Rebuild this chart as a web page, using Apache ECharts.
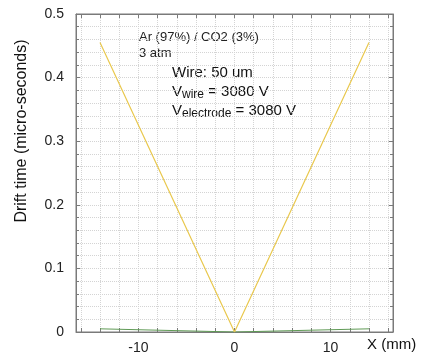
<!DOCTYPE html>
<html>
<head>
<meta charset="utf-8">
<script src="https://cdn.jsdelivr.net/npm/echarts@6/dist/echarts.min.js"></script>
<style>
  html, body { margin: 0; padding: 0; background: #fff; }
  #chart { width: 422px; height: 358px; }
</style>
</head>
<body>
<div id="chart"></div>
<script>
// positions along the wire (mm) and drift times (micro-seconds)
const xPos = [-14, 0, 14]
const driftYellow = [0.455, 0, 0.455]
const driftGreen = [0.005, 0, 0.005]

const xLabels = [-10, 0, 10]
const xGrid = [-16, -14, -12, -10, -8, -6, -4, -2, 0, 2, 4, 6, 8, 10, 12, 14, 16]

const font = 'Liberation Sans, Arial, sans-serif'
const frame = '#7a7a7a'
const gridCol = '#d4d4d4'

const chart = echarts.init(document.getElementById('chart'))

const option = {
  animation: false,
  grid: { left: 76, right: 29, top: 14, bottom: 26, show: true, borderColor: frame, borderWidth: 1 },
  xAxis: [
    {
      type: 'value',
      min: -16.5,
      max: 16.5,
      axisLine: { show: true, onZero: false, lineStyle: { color: frame, width: 1 } },
      axisTick: { show: true, inside: true, length: 4, customValues: xGrid, lineStyle: { color: frame } },
      axisLabel: {
        customValues: xLabels,
        margin: 9,
        fontFamily: font,
        fontSize: 14,
        color: '#222',
      },
      splitLine: {
        show: true,
        customValues: xGrid,
        lineStyle: { color: gridCol, type: [1, 1], width: 1 },
      },
    },
    {
      type: 'value',
      position: 'top',
      min: -16.5,
      max: 16.5,
      axisLine: { show: true, onZero: false, lineStyle: { color: frame, width: 1 } },
      axisTick: { show: true, inside: true, length: 4, customValues: xGrid, lineStyle: { color: frame } },
      axisLabel: { show: false },
      splitLine: { show: false },
    },
  ],
  yAxis: [
    {
      type: 'value',
      min: 0,
      max: 0.5,
      interval: 0.1,
      axisLine: { show: true, onZero: false, lineStyle: { color: frame, width: 1 } },
      axisTick: { show: true, inside: true, length: 4, lineStyle: { color: frame } },
      minorTick: { show: true, splitNumber: 5, length: 3, lineStyle: { color: frame } },
      axisLabel: {
        margin: 12,
        fontFamily: font,
        fontSize: 14,
        color: '#222',
        formatter: v => (v === 0 ? '0' : String(+v.toFixed(1))),
      },
      splitLine: { show: true, lineStyle: { color: gridCol, type: [1, 1] } },
      minorSplitLine: { show: true, lineStyle: { color: gridCol, type: [1, 1] } },
    },
    {
      type: 'value',
      position: 'right',
      min: 0,
      max: 0.5,
      interval: 0.1,
      axisLine: { show: true, onZero: false, lineStyle: { color: frame, width: 1 } },
      axisTick: { show: true, inside: true, length: 4, lineStyle: { color: frame } },
      minorTick: { show: true, splitNumber: 5, length: 3, lineStyle: { color: frame } },
      axisLabel: { show: false },
      splitLine: { show: false },
    },
  ],
  series: [
    {
      type: 'line',
      data: xPos.map((x, i) => [x, driftGreen[i]]),
      symbol: 'none',
      lineStyle: { color: '#5f9a55', width: 1 },
      z: 3,
    },
    {
      type: 'line',
      data: xPos.map((x, i) => [x, driftYellow[i]]),
      symbol: 'none',
      lineStyle: { color: '#e9c84e', width: 1.2 },
      z: 4,
    },
  ],
  graphic: [
    {
      type: 'text',
      x: 22,
      y: 131,
      rotation: Math.PI / 2,
      style: {
        text: 'Drift time (micro-seconds)',
        font: '16px ' + font,
        fill: '#111',
        align: 'center',
        verticalAlign: 'middle',
      },
    },
    {
      type: 'text',
      left: 139,
      top: 29,
      style: {
        text: 'Ar (97%) / CO2 (3%)\n3 atm',
        font: '13px ' + font,
        lineHeight: 16,
        fill: '#222',
      },
    },
    {
      type: 'text',
      left: 172,
      top: 65,
      style: {
        text: '{m|Wire: 50 um}\n{m|V}{s|wire}{m| = 3080 V}\n{m|V}{s|electrode}{m| = 3080 V}',
        fill: '#111',
        rich: {
          m: { fontFamily: font, fontSize: 15, lineHeight: 19, fill: '#111' },
          s: { fontFamily: font, fontSize: 12, lineHeight: 19, verticalAlign: 'bottom', padding: [7, 0, 0, 0], fill: '#111' },
        },
      },
    },
    {
      type: 'text',
      left: 367,
      top: 337,
      style: {
        text: 'X (mm)',
        font: '15px ' + font,
        fill: '#111',
      },
    },
  ],
}

chart.setOption(option)
</script>
</body>
</html>
